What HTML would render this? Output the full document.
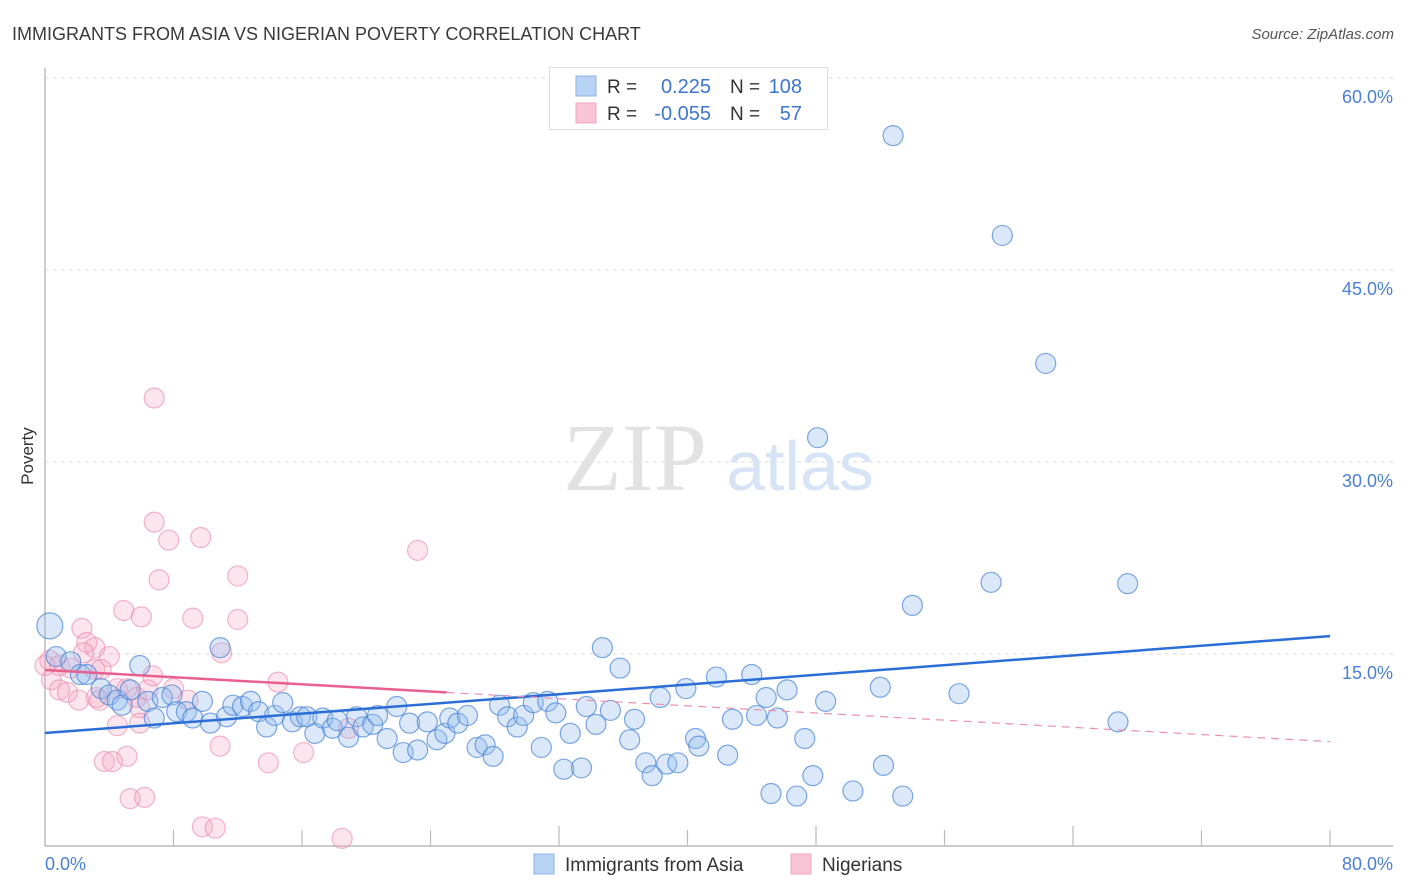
<!DOCTYPE html>
<html><head><meta charset="utf-8">
<style>
body{margin:0;background:#fff;font-family:"Liberation Sans",sans-serif;}
svg{display:block}
</style></head>
<body>
<svg width="1406" height="892" xmlns="http://www.w3.org/2000/svg">
<text x="12" y="40" font-size="18" fill="#3a3a3a">IMMIGRANTS FROM ASIA VS NIGERIAN POVERTY CORRELATION CHART</text>
<text x="1394" y="39" font-size="15" fill="#555" font-style="italic" text-anchor="end">Source: ZipAtlas.com</text>
<text x="33" y="456" font-size="17" fill="#333" text-anchor="middle" transform="rotate(-90 33 456)">Poverty</text>
<g id="grid"></g>
<g>
<text x="635" y="490" font-size="96" fill="#e2e2e2" font-family="Liberation Serif,serif" text-anchor="middle">ZIP</text>
<text x="800" y="490" font-size="70" fill="#d7e4f5" text-anchor="middle">atlas</text>
</g>
<g id="axes"></g>
<g id="pink"></g>
<g id="blue"></g>
<g id="lines"></g>
<text x="45" y="870" font-size="18" fill="#4a7fd6">0.0%</text>
<text x="1393" y="870" font-size="18" fill="#4a7fd6" text-anchor="end">80.0%</text>
<g>
<rect x="549.5" y="67.5" width="278" height="62" fill="#fff" stroke="#ddd"/>
<rect x="576" y="76" width="20" height="20" fill="#b9d3f5" stroke="#8ab3ea"/>
<rect x="576" y="103" width="20" height="20" fill="#f9c5d6" stroke="#f1a5bf"/>
<text x="607" y="93" font-size="19" fill="#333">R =</text>
<text x="711" y="93" font-size="20" fill="#3d76d1" text-anchor="end">0.225</text>
<text x="730" y="93" font-size="19" fill="#333">N =</text>
<text x="802" y="93" font-size="20" fill="#3d76d1" text-anchor="end">108</text>
<text x="607" y="120" font-size="19" fill="#333">R =</text>
<text x="711" y="120" font-size="20" fill="#3d76d1" text-anchor="end">-0.055</text>
<text x="730" y="120" font-size="19" fill="#333">N =</text>
<text x="802" y="120" font-size="20" fill="#3d76d1" text-anchor="end">57</text>
</g>
<g>
<rect x="534" y="854" width="20" height="20" fill="#b9d3f5" stroke="#8ab3ea"/>
<text x="565" y="871" font-size="19" fill="#333">Immigrants from Asia</text>
<rect x="791" y="854" width="20" height="20" fill="#f9c5d6" stroke="#f1a5bf"/>
<text x="822" y="871" font-size="19" fill="#333">Nigerians</text>
</g>
</svg>
<script>
const yTicks=[15,30,45,60];
const yTickLabels=["15.0%","30.0%","45.0%","60.0%"];
const xTicks=[8,16,24,32,40,48,56,64,72,80];
const blueX=[0.3,0.7,1.6,2.2,2.6,3.5,4.0,4.5,4.8,5.3,5.9,6.4,6.8,7.3,7.9,8.2,8.8,9.2,9.8,10.3,10.9,11.3,11.7,12.3,12.8,13.3,13.8,14.3,14.8,15.4,15.9,16.3,16.8,17.3,17.9,18.2,18.9,19.4,19.8,20.4,20.7,21.3,21.9,22.3,22.7,23.2,23.8,24.4,24.9,25.2,25.7,26.3,26.9,27.4,27.9,28.3,28.8,29.4,29.8,30.4,31.3,31.8,30.9,32.3,33.4,32.7,33.7,34.3,35.2,34.7,35.8,36.4,36.7,37.4,37.8,38.7,39.4,38.3,39.9,40.5,40.7,41.8,42.5,42.8,44.0,44.3,44.9,45.2,45.6,46.2,46.8,47.3,47.8,48.6,48.1,50.3,52.0,52.2,53.4,52.8,54.0,56.9,58.9,59.6,62.3,66.8,67.4];
const blueY=[17.2,14.8,14.4,13.4,13.4,12.3,11.8,11.4,11.0,12.2,14.1,11.3,10.0,11.6,11.8,10.5,10.5,10.0,11.3,9.6,15.5,10.1,11.0,10.9,11.3,10.5,9.3,10.2,11.2,9.7,10.1,10.1,8.8,10.0,9.2,9.8,8.5,10.1,9.3,9.5,10.2,8.4,10.9,7.3,9.6,7.5,9.7,8.3,8.8,10.0,9.6,10.2,7.7,7.9,7.0,11.0,10.1,9.3,10.2,11.2,11.3,10.4,7.7,6.0,6.1,8.8,10.9,9.5,10.6,15.5,13.9,8.3,9.9,6.5,5.5,6.4,6.5,11.6,12.3,8.4,7.8,13.2,7.1,9.9,13.4,10.2,11.6,4.1,10.0,12.2,3.9,8.4,5.5,11.3,31.9,4.3,12.4,6.3,3.9,55.5,18.8,11.9,20.6,47.7,37.7,9.7,20.5];
const pinkX=[0.3,0.4,0.9,1.4,2.3,2.6,3.1,2.4,4.0,3.1,3.5,2.1,3.2,3.4,4.5,5.1,5.7,6.4,6.7,8.0,8.9,14.5,5.9,4.5,5.9,18.9,10.9,3.7,4.2,5.1,16.1,13.9,5.3,6.2,9.8,10.6,18.5,4.9,6.0,9.2,12.0,11.0,6.8,6.8,7.7,9.7,7.1,12.0,23.2,0.0,0.9,1.6];
const pinkY=[14.5,13.0,12.2,12.0,17.0,15.9,15.5,15.1,14.8,13.8,13.8,11.4,11.6,11.4,12.3,12.3,11.6,12.2,13.3,12.3,11.4,12.8,10.8,9.4,9.6,9.2,7.8,6.6,6.6,7.0,7.3,6.5,3.7,3.8,1.5,1.4,0.6,18.4,17.9,17.8,17.7,15.1,35.0,25.3,23.9,24.1,20.8,21.1,23.1,14.1,14.1,13.9];
const blueTrend=[[0,8.83],[80,16.4]];
const pinkTrend=[[0,13.75],[25,12.0],[80,8.15]];

const NS="http://www.w3.org/2000/svg";
const X0=45,X1=1330,Y0=846,PXPER=192/15;
function sx(v){return X0+(X1-X0)*v/80;}
function sy(v){return Y0-v*PXPER;}
function mk(tag,attrs,parent){const e=document.createElementNS(NS,tag);for(const k in attrs)e.setAttribute(k,attrs[k]);parent.appendChild(e);return e;}
const grid=document.getElementById('grid'),axes=document.getElementById('axes');
yTicks.forEach((t,i)=>{
 const l=mk('line',{x1:X0,x2:1393,y1:sy(t),y2:sy(t),stroke:'#d8d8d8','stroke-dasharray':'4,4'},grid);
 
 
 const tx=mk('text',{x:1393,y:sy(t)+25,'font-size':18,fill:'#4a7fd6','text-anchor':'end'},grid);
 tx.textContent=yTickLabels[i];
 
 
});
let a=mk('line',{x1:X0,x2:X0,y1:68,y2:Y0,stroke:'#bbb','stroke-width':1.5},axes);


a=mk('line',{x1:X0,x2:1393,y1:Y0,y2:Y0,stroke:'#bbb','stroke-width':1.5},axes);


xTicks.forEach(t=>{
 const l=mk('line',{x1:sx(t),x2:sx(t),y1:(t%16===0&&t!==16&&t!==80)?826:830,y2:Y0,stroke:'#bbb','stroke-width':1.2},axes);
 
 
});
const pg=document.getElementById('pink');
pinkX.forEach((v,i)=>{
 const c=mk('circle',{cx:sx(v),cy:sy(pinkY[i]),r:10,fill:'rgba(244,168,195,0.3)',stroke:'rgba(236,140,175,0.65)','stroke-width':1.2},pg);
 
 
});
const bg=document.getElementById('blue');
blueX.forEach((v,i)=>{
 const c=mk('circle',{cx:sx(v),cy:sy(blueY[i]),r:i===0?13:10,fill:'rgba(150,190,238,0.35)',stroke:'rgba(70,130,215,0.7)','stroke-width':1.2},bg);
 
 
});
const lg=document.getElementById('lines');
let L=mk('line',{x1:sx(blueTrend[0][0]),y1:sy(blueTrend[0][1]),x2:sx(blueTrend[1][0]),y2:sy(blueTrend[1][1]),stroke:'#2b6fd6','stroke-width':2.5},lg);


L=mk('line',{x1:sx(pinkTrend[0][0]),y1:sy(pinkTrend[0][1]),x2:sx(pinkTrend[1][0]),y2:sy(pinkTrend[1][1]),stroke:'#e8608f','stroke-width':2.5},lg);


L=mk('line',{x1:sx(pinkTrend[1][0]),y1:sy(pinkTrend[1][1]),x2:sx(pinkTrend[2][0]),y2:sy(pinkTrend[2][1]),stroke:'#ec8fb0','stroke-width':1.2,'stroke-dasharray':'8,6'},lg);


</script>
</body></html>
